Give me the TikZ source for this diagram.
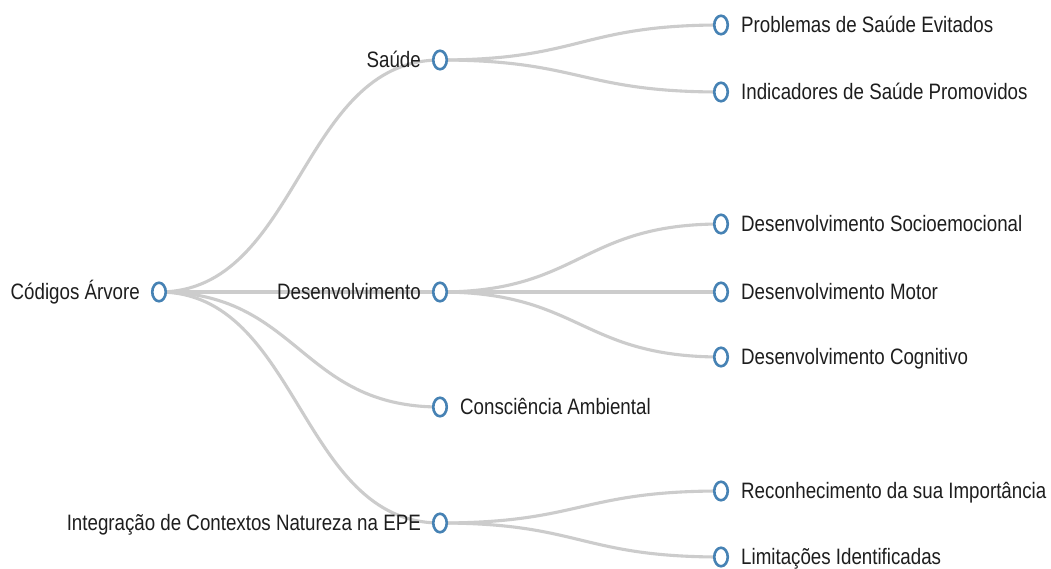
\documentclass[tikz,border=0pt]{standalone}
\usepackage{fontspec}
\setmainfont{Liberation Sans}[FakeStretch=0.84]
\usetikzlibrary{shapes.geometric,calc}
\definecolor{linkgray}{HTML}{CCCCCC}
\definecolor{dotblue}{HTML}{4682B4}
\definecolor{txt}{HTML}{1E1E1E}
\pgfdeclarelayer{bg}
\pgfsetlayers{bg,main}
\tikzset{
  dot/.style={ellipse, draw=dotblue, fill=white, line width=2.6pt, minimum width=13.5pt, minimum height=18.5pt, inner sep=0pt},
  lbl/.style={inner sep=0pt, text=txt, font=\fontsize{22.3}{26}\selectfont},
  lbll/.style={lbl, anchor=base east},
  lblr/.style={lbl, anchor=base west},
  link/.style={draw=linkgray, line width=3.1pt}
}
\newcommand\treelink[2]{%
  \draw[link] let \p1=(#1.center), \p2=(#2.center) in
    (\p1) .. controls ({(\x1+\x2)/2},\y1) and ({(\x1+\x2)/2},\y2) .. (\p2);}
\begin{document}
\begin{tikzpicture}[x=1pt,y=-1pt]
\begin{pgfonlayer}{bg}
\fill[white] (0,0) rectangle (1051,569);
\end{pgfonlayer}
\useasboundingbox (0,0) rectangle (1051,569);
% dots
\node[dot] (r) at (159,292) {};
\node[dot] (s) at (440,60) {};
\node[dot] (d) at (440,292) {};
\node[dot] (c) at (440,407) {};
\node[dot] (i) at (440,523) {};
\node[dot] (s1) at (721,25) {};
\node[dot] (s2) at (721,92) {};
\node[dot] (d1) at (721,224) {};
\node[dot] (d2) at (721,292) {};
\node[dot] (d3) at (721,357) {};
\node[dot] (i1) at (721,491) {};
\node[dot] (i2) at (721,557) {};
% links
\begin{pgfonlayer}{bg}
\treelink{r}{s}
\treelink{r}{d}
\treelink{r}{c}
\treelink{r}{i}
\treelink{s}{s1}
\treelink{s}{s2}
\treelink{d}{d1}
\treelink{d}{d2}
\treelink{d}{d3}
\treelink{i}{i1}
\treelink{i}{i2}
\end{pgfonlayer}
% labels
\node[lbll] (tr) at (140,299.5) {Códigos Árvore};
\node[lbll] (ts) at (421,67.5) {Saúde};
\node[lbll] (td) at (421,299.5) {Desenvolvimento};
\node[lblr] (tc) at (460,414.5) {Consciência Ambiental};
\node[lbll] (ti) at (421,530.5) {Integração de Contextos Natureza na EPE};
\node[lblr] (ts1) at (741,32.5) {Problemas de Saúde Evitados};
\node[lblr] (ts2) at (741,99.5) {Indicadores de Saúde Promovidos};
\node[lblr] (td1) at (741,231.5) {Desenvolvimento Socioemocional};
\node[lblr] (td2) at (741,299.5) {Desenvolvimento Motor};
\node[lblr] (td3) at (741,364.5) {Desenvolvimento Cognitivo};
\node[lblr] (ti1) at (741,498.5) {Reconhecimento da sua Importância};
\node[lblr] (ti2) at (741,564.5) {Limitações Identificadas};
\end{tikzpicture}
\end{document}
